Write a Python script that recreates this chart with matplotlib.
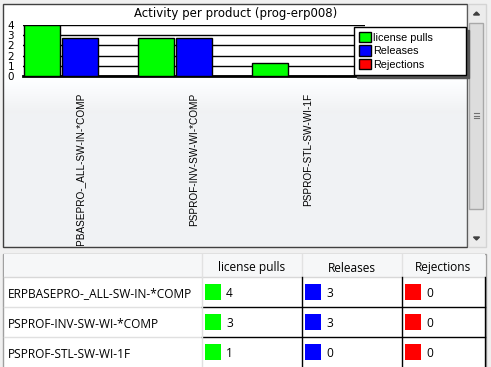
import matplotlib.pyplot as plt
import numpy as np
from matplotlib.patches import Rectangle, Polygon
from matplotlib.transforms import blended_transform_factory

# Data
products = ["ERPBASEPRO-_ALL-SW-IN-*COMP", "PSPROF-INV-SW-WI-*COMP", "PSPROF-STL-SW-WI-1F"]
series = ["license pulls", "Releases", "Rejections"]
license_pulls = [4, 3, 1]
releases = [3, 3, 0]
rejections = [0, 0, 0]
colors = ["#00FF00", "#0000FF", "#FF0000"]
title = "Activity per product (prog-erp008)"

W, H = 491, 367
fig = plt.figure(figsize=(W / 100, H / 100), dpi=100)
fig.patch.set_facecolor("#f0f0f0")


def fx(x):
    return x / W


def fy(y):
    return 1 - y / H


# Background axes in pixel coordinates (y down)
bg = fig.add_axes([0, 0, 1, 1], zorder=0)
bg.set_xlim(0, W)
bg.set_ylim(H, 0)
bg.axis("off")

# Chart panel with soft gradient
grad = np.ones((100, 1, 3))
t = np.linspace(0, 1, 100)
shade = np.where(t < 0.3, 1.0, np.where(t < 0.45, 1.0 - (t - 0.3) * 0.4, 0.945))
grad[:, 0, 0] = shade
grad[:, 0, 1] = shade + 0.005
grad[:, 0, 2] = np.minimum(shade + 0.012, 1)
bg.imshow(np.clip(grad, 0, 1), extent=(4, 468, 246, 4), aspect="auto", zorder=0)
bg.add_patch(Rectangle((3.5, 3.5), 464, 243, fill=False, edgecolor="#404040", lw=1, zorder=1))

# Scrollbar
bg.add_patch(Rectangle((468, 3.5), 18, 243, facecolor="#ececec", edgecolor="#d4d4d4", lw=1, zorder=1))
bg.add_patch(Rectangle((469.5, 23), 14, 186, facecolor="#dddddd", edgecolor="#a8a8a8", lw=1, zorder=2))
for gy in (113, 115.5, 118):
    bg.plot([474, 479], [gy, gy], color="#707070", lw=0.8, zorder=3)
bg.add_patch(Polygon([[473.5, 15], [479.5, 15], [476.5, 12]], color="#404040", zorder=3))
bg.add_patch(Polygon([[473.5, 237], [479.5, 237], [476.5, 240]], color="#404040", zorder=3))

# Title
bg.text(236, 13, title, ha="center", va="center", fontsize=8.5, zorder=3)

# Chart axes
ax = fig.add_axes([fx(23), fy(76), fx(365) - fx(23), fy(25) - fy(76)], zorder=2)
ax.patch.set_alpha(0)
x = np.arange(len(products))
width = 1 / 3
for i, (vals, c, name) in enumerate(zip([license_pulls, releases, rejections], colors, series)):
    ax.bar(x - 0.5 + (i + 0.5) * width, vals, width * 0.95, color=c,
           edgecolor="black", linewidth=1, label=name, zorder=3)
ax.set_xlim(-0.5, len(products) - 0.5)
ymax = max(license_pulls)
ax.set_ylim(0, ymax)
ticks = np.linspace(0, ymax, 6)
ax.set_yticks(ticks)
ax.set_yticklabels([str(int(round(v))) for v in ticks], fontsize=7.5)
ax.yaxis.grid(True, color="black", lw=1)
ax.set_axisbelow(True)
for s in ("left", "top", "right"):
    ax.spines[s].set_visible(False)
ax.spines["bottom"].set_linewidth(2)
ax.tick_params(left=False, bottom=False, labelbottom=False, pad=3)

leg = ax.legend(loc="upper left",
                bbox_to_anchor=(fx(354), fy(72), fx(466) - fx(354), fy(27) - fy(72)),
                bbox_transform=fig.transFigure, mode="expand",
                prop={"family": "Liberation Sans", "size": 7.8},
                fancybox=False, shadow={"color": "#555555", "alpha": 1},
                edgecolor="black", framealpha=1, borderaxespad=0,
                handlelength=1.1, handleheight=1.1, handletextpad=0.2,
                labelspacing=0.25, borderpad=0.45)
leg.get_frame().set_linewidth(1)

# Rotated product labels, clipped to the panel
panel = fig.add_axes([fx(4), fy(246), fx(467) - fx(4), fy(4) - fy(246)], zorder=1)
panel.set_xlim(0, W)
panel.set_ylim(H, 0)
panel.axis("off")
blend = blended_transform_factory(ax.transData, bg.transData)
for i, p in enumerate(products):
    panel.text(x[i], 93, p, rotation=90, ha="center", va="top", fontsize=7.2,
               family="Liberation Sans", transform=blend, clip_on=True)

# Table
cols = [4, 202, 302, 402, 485]
rows = [254, 277, 307, 337, 367]
bg.add_patch(Rectangle((3.5, 253.5), 483, 120, facecolor="white", edgecolor="#a0a0a0", lw=1, zorder=1))
bg.add_patch(Rectangle((4, 254), 481, 23, facecolor="#f6f7f8", edgecolor="none", zorder=1))
bg.plot([4, 485], [277, 277], color="#d8d8d8", lw=1, zorder=2)
for cx in cols[1:4]:
    bg.plot([cx, cx], [254, 277], color="#e2e2e2", lw=1, zorder=2)
for ry in rows[2:4]:
    bg.plot([4, 202], [ry, ry], color="#e0e0e0", lw=1, zorder=2)
    bg.plot([202, 485], [ry, ry], color="black", lw=1, zorder=2)
bg.plot([202, 202], [277, 367], color="#e0e0e0", lw=1, zorder=2)
for cx in cols[2:]:
    bg.plot([cx, cx], [277, 367], color="black", lw=1, zorder=2)

tfont = dict(fontsize=8.6, family="Open Sans", va="baseline", zorder=3)
for j, s in enumerate(series):
    bg.text((cols[j + 1] + cols[j + 2]) / 2, 271.5, s, ha="center", **tfont)
table_vals = [license_pulls, releases, rejections]
for r, p in enumerate(products):
    yc = (rows[r + 1] + rows[r + 2]) / 2
    bg.text(8, yc + 5.5, p, ha="left", **tfont)
    for j in range(3):
        bg.add_patch(Rectangle((cols[j + 1] + 3, yc - 8), 16, 16, facecolor=colors[j], edgecolor="none", zorder=3))
        bg.text(cols[j + 1] + 24, yc + 5, str(table_vals[j][r]), ha="left", **tfont)

fig.savefig("out.png", dpi=100, facecolor=fig.get_facecolor())
